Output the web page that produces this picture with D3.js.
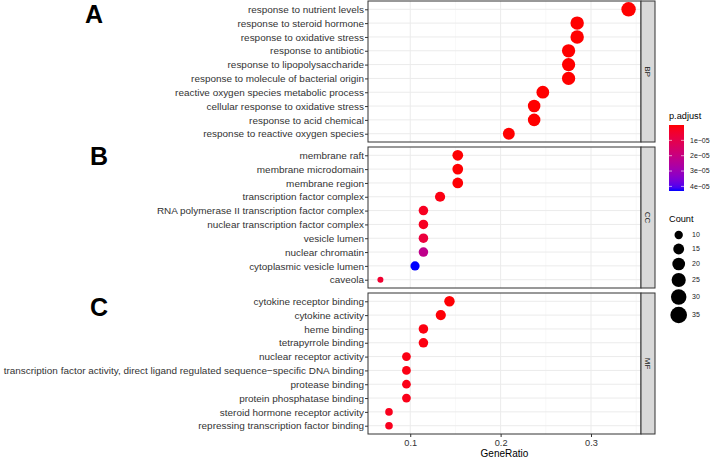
<!DOCTYPE html>
<html><head><meta charset="utf-8">
<script src="https://cdn.jsdelivr.net/npm/d3@7"></script>
<style>body{margin:0;background:#fff} svg{display:block}</style>
</head><body><svg id="c" width="710" height="458"></svg>
<script>
// ---------------- data ----------------
const panelNames = ["BP", "CC", "MF"];
const panelLetters = ["A", "B", "C"];

const bpTerms = ["response to nutrient levels","response to steroid hormone","response to oxidative stress","response to antibiotic","response to lipopolysaccharide","response to molecule of bacterial origin","reactive oxygen species metabolic process","cellular response to oxidative stress","response to acid chemical","response to reactive oxygen species"];
const bpRatio = [0.3416,0.2847,0.2847,0.2752,0.2752,0.2752,0.2467,0.2371,0.2371,0.2091];
const bpCount = [35,29,29,28,28,28,25,24,24,21];
const bpPadj  = [1.2e-12,3.5e-11,2.1e-10,8.4e-11,1.5e-10,1.6e-10,4.5e-9,2.0e-9,5.6e-9,3.1e-8];

const ccTerms = ["membrane raft","membrane microdomain","membrane region","transcription factor complex","RNA polymerase II transcription factor complex","nuclear transcription factor complex","vesicle lumen","nuclear chromatin","cytoplasmic vesicle lumen","caveola"];
const ccRatio = [0.1526,0.1526,0.1526,0.1330,0.1146,0.1146,0.1146,0.1146,0.1053,0.0670];
const ccCount = [16,16,16,14,12,12,12,12,11,7];
const ccPadj  = [2.2e-7,2.2e-7,2.6e-7,1.4e-6,3.0e-6,3.2e-6,0.75e-5,2.2e-5,4.3e-5,0.55e-5];

const mfTerms = ["cytokine receptor binding","cytokine activity","heme binding","tetrapyrrole binding","nuclear receptor activity","transcription factor activity, direct ligand regulated sequence\u2212specific DNA binding","protease binding","protein phosphatase binding","steroid hormone receptor activity","repressing transcription factor binding"];
const mfRatio = [0.1434,0.1338,0.1146,0.1146,0.0958,0.0958,0.0958,0.0958,0.0765,0.0765];
const mfCount = [15,14,12,12,10,10,10,10,8,8];
const mfPadj  = [3.0e-7,5.0e-7,1.1e-6,1.2e-6,1.5e-6,1.5e-6,1.8e-6,2.0e-6,2.5e-6,2.6e-6];

const xTicks = [0.1, 0.2, 0.3];
const xMinor = [0.15, 0.25, 0.35];
const padjTicks = [1e-5, 2e-5, 3e-5, 4e-5];
const padjLabels = ["1e\u221205","2e\u221205","3e\u221205","4e\u221205"];
const countBreaks = [10, 15, 20, 25, 30, 35];

// ---------------- build ----------------
const panels = [
  {name: panelNames[0], letter: panelLetters[0], terms: bpTerms, ratio: bpRatio, count: bpCount, padj: bpPadj},
  {name: panelNames[1], letter: panelLetters[1], terms: ccTerms, ratio: ccRatio, count: ccCount, padj: ccPadj},
  {name: panelNames[2], letter: panelLetters[2], terms: mfTerms, ratio: mfRatio, count: mfCount, padj: mfPadj}
];

const svg = d3.select("#c");
const FONT = "'Liberation Sans', Arial, sans-serif";

const left = 368, right = 641, stripW = 14;
const top0 = 1, panelH = 141, gap = 5;

const allRatio = bpRatio.concat(ccRatio, mfRatio);
const allCount = bpCount.concat(ccCount, mfCount);
const allPadj = bpPadj.concat(ccPadj, mfPadj);
const ext = d3.extent(allRatio);
const pad = (ext[1] - ext[0]) * 0.05;
const x = d3.scaleLinear().domain([ext[0] - pad, ext[1] + pad]).range([left, right]);

const cExt = d3.extent(allCount);
const norm = d3.scaleLinear().domain(cExt).range([0, 1]);
const rScale = d3.scaleLinear().domain([0, 1]).range([3, 7.2]);
const r = c => rScale(Math.sqrt(norm(c)));
const rLegScale = d3.scaleLinear().domain([0, 1]).range([2.2, 8.3]);
const rLeg = c => rLegScale(Math.sqrt(norm(c)));

const pExt = [0, d3.max(allPadj)];
const color = d3.scaleLinear().domain(pExt).range(["#ff0000", "#0000ff"]).interpolate(d3.interpolateLab);

panels.forEach((p, i) => {
  const y0 = top0 + i * (panelH + gap);
  const y = d3.scalePoint().domain(p.terms).range([y0, y0 + panelH]).padding(0.6);
  const g = svg.append("g");
  g.append("rect").attr("x", left).attr("y", y0).attr("width", right - left).attr("height", panelH).attr("fill", "#fff");
  // grid
  g.selectAll(".mn").data(xMinor.filter(v => x(v) <= right)).enter().append("line")
    .attr("x1", d => x(d)).attr("x2", d => x(d)).attr("y1", y0).attr("y2", y0 + panelH)
    .attr("stroke", "#f4f4f4").attr("stroke-width", 0.6);
  g.selectAll(".mj").data(xTicks).enter().append("line")
    .attr("x1", d => x(d)).attr("x2", d => x(d)).attr("y1", y0).attr("y2", y0 + panelH)
    .attr("stroke", "#ebebeb").attr("stroke-width", 1);
  g.selectAll(".hy").data(p.terms).enter().append("line")
    .attr("x1", left).attr("x2", right).attr("y1", d => y(d)).attr("y2", d => y(d))
    .attr("stroke", "#ebebeb").attr("stroke-width", 1);
  // points
  g.selectAll("circle").data(p.terms.map((t, k) => ({t, v: p.ratio[k], c: p.count[k], q: p.padj[k]})))
    .enter().append("circle")
    .attr("cx", d => x(d.v)).attr("cy", d => y(d.t)).attr("r", d => r(d.c))
    .attr("fill", d => color(d.q));
  // border
  g.append("rect").attr("x", left).attr("y", y0).attr("width", right - left).attr("height", panelH)
    .attr("fill", "none").attr("stroke", "#333").attr("stroke-width", 1);
  // strip
  g.append("rect").attr("x", right).attr("y", y0).attr("width", stripW).attr("height", panelH)
    .attr("fill", "#d9d9d9").attr("stroke", "#333").attr("stroke-width", 1);
  g.append("text").attr("transform", `translate(${right + stripW / 2},${y0 + panelH / 2}) rotate(90)`)
    .attr("text-anchor", "middle").attr("dy", "0.35em").attr("font-family", FONT).attr("font-size", 8)
    .attr("fill", "#1a1a1a").text(p.name);
  // y axis
  const ya = d3.axisLeft(y).tickSize(3).tickPadding(1);
  const ag = g.append("g").attr("transform", `translate(${left},0)`).call(ya);
  ag.select(".domain").remove();
  ag.selectAll(".tick line").attr("stroke", "#333");
  ag.selectAll(".tick text").attr("font-family", FONT).attr("font-size", 9.95).attr("fill", "#333");
  // letter
  svg.append("text").attr("x", i === 0 ? 85 : 90).attr("y", [23, 165, 316][i])
    .attr("font-family", FONT).attr("font-weight", "bold").attr("font-size", 25)
    .attr("fill", "#000").text(p.letter);
});

// x axis
const bottom = top0 + 3 * panelH + 2 * gap;
const xa = d3.axisBottom(x).tickValues(xTicks).tickFormat(d3.format(".1f")).tickSize(3).tickPadding(2);
const xg = svg.append("g").attr("transform", `translate(0,${bottom})`).call(xa);
xg.select(".domain").remove();
xg.selectAll(".tick line").attr("stroke", "#333");
xg.selectAll(".tick text").attr("font-family", FONT).attr("font-size", 9.2).attr("fill", "#333");
svg.append("text").attr("x", (left + right) / 2).attr("y", 456.5).attr("text-anchor", "middle")
  .attr("font-family", FONT).attr("font-size", 10).attr("fill", "#000").text("GeneRatio");

// colour legend
const lx = 669, barW = 15, barTop = 125, barH = 66;
svg.append("text").attr("x", lx).attr("y", 118.5).attr("font-family", FONT).attr("font-size", 9.2).text("p.adjust");
const defs = svg.append("defs");
const grad = defs.append("linearGradient").attr("id", "pg").attr("x1", 0).attr("x2", 0).attr("y1", 0).attr("y2", 1);
d3.range(0, 1.0001, 0.05).forEach(t => {
  grad.append("stop").attr("offset", t).attr("stop-color", color(pExt[0] + t * (pExt[1] - pExt[0])));
});
svg.append("rect").attr("x", lx).attr("y", barTop).attr("width", barW).attr("height", barH).attr("fill", "url(#pg)");
const py = d3.scaleLinear().domain(pExt).range([barTop, barTop + barH]);
padjTicks.forEach((v, k) => {
  svg.append("line").attr("x1", lx).attr("x2", lx + 3).attr("y1", py(v)).attr("y2", py(v)).attr("stroke", "#fff").attr("stroke-width", 0.6);
  svg.append("line").attr("x1", lx + barW - 3).attr("x2", lx + barW).attr("y1", py(v)).attr("y2", py(v)).attr("stroke", "#fff").attr("stroke-width", 0.6);
  svg.append("text").attr("x", lx + barW + 6).attr("y", py(v)).attr("dy", "0.35em")
    .attr("font-family", FONT).attr("font-size", 7).attr("fill", "#1a1a1a").text(padjLabels[k]);
});

// size legend
svg.append("text").attr("x", lx).attr("y", 222).attr("font-family", FONT).attr("font-size", 9.2).text("Count");
const cy = [235, 249, 264, 280, 297, 315];
countBreaks.forEach((c, k) => {
  svg.append("circle").attr("cx", 678.7).attr("cy", cy[k]).attr("r", rLeg(c)).attr("fill", "#000");
  svg.append("text").attr("x", 692).attr("y", cy[k]).attr("dy", "0.35em")
    .attr("font-family", FONT).attr("font-size", 7).attr("fill", "#1a1a1a").text(c);
});
</script>
</body></html>
